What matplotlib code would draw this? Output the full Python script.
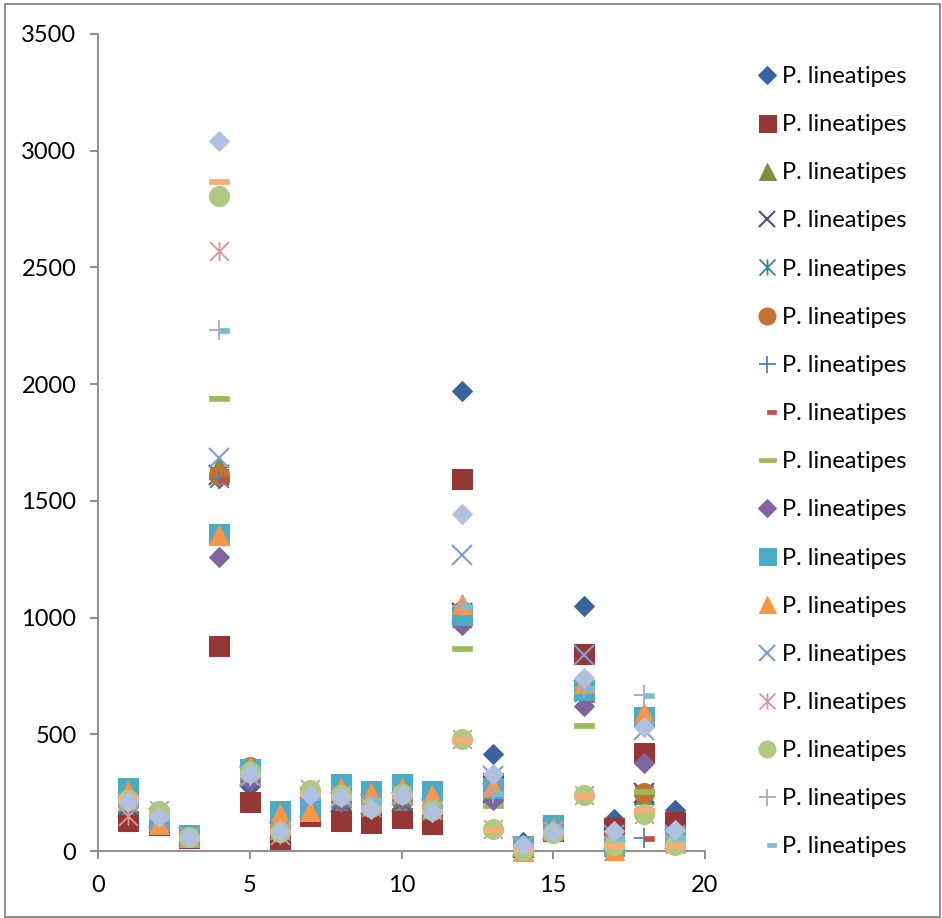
import matplotlib.pyplot as plt
from matplotlib.path import Path
from matplotlib.patches import Rectangle

x = list(range(1, 20))

# values, one list per series (x = 1..19)
s1 = [190, 130, 60, 1600, 280, 70, 200, 190, 200, 200, 160, 1970, 415, 40, 90, 1050, 135, 245, 175]
s2 = [130, 110, 55, 880, 210, 50, 150, 130, 120, 140, 115, 1595, 290, 15, 85, 845, 100, 420, 125]
s3 = [200, 140, 60, 1650, 330, 90, 200, 220, 210, 220, 190, 1040, 260, 20, 95, 700, 60, 245, 60]
s4 = [190, 140, 60, 1610, 320, 80, 190, 210, 200, 210, 180, 1020, 250, 15, 90, 690, 50, 250, 50]
s5 = [200, 150, 60, 1600, 320, 90, 200, 220, 200, 220, 180, 1000, 250, 15, 90, 680, 50, 240, 50]
s6 = [210, 150, 65, 1610, 360, 100, 220, 230, 210, 230, 190, 1030, 260, 20, 95, 700, 60, 250, 60]
s7 = [200, 140, 60, 1595, 320, 90, 200, 210, 200, 220, 180, 1020, 250, 15, 90, 690, 50, 55, 50]
s8 = [200, 140, 60, 1595, 320, 90, 200, 210, 200, 220, 180, 1010, 250, 15, 90, 650, 50, 55, 50]
s9 = [200, 150, 60, 1940, 310, 90, 210, 220, 200, 220, 180, 870, 195, 15, 90, 540, 50, 255, 50]
s10 = [200, 140, 60, 1260, 300, 90, 200, 210, 200, 220, 180, 970, 220, 15, 90, 620, 50, 375, 50]
s11 = [270, 130, 70, 1360, 350, 170, 180, 285, 255, 285, 255, 1010, 270, 20, 110, 690, 20, 575, 60]
s12 = [255, 115, 60, 1355, 360, 160, 170, 270, 250, 270, 240, 1060, 280, 0, 100, 720, 5, 590, 40]
s13 = [210, 140, 60, 1685, 320, 90, 230, 230, 200, 240, 180, 1270, 320, 20, 90, 840, 70, 520, 70]
s14 = [150, 175, 65, 2570, 320, 70, 265, 240, 190, 240, 175, 480, 95, 20, 85, 240, 25, 160, 30]
s15 = [220, 170, 60, 2805, 340, 80, 260, 240, 190, 245, 175, 480, 95, 5, 75, 240, 25, 160, 25]
s16 = [210, 140, 60, 2230, 320, 90, 230, 230, 200, 240, 180, 1050, 250, 20, 90, 700, 60, 670, 60]
s17 = [210, 140, 60, 2230, 330, 90, 230, 230, 220, 240, 190, 1050, 250, 20, 95, 700, 60, 670, 60]
s18 = [230, 155, 60, 2870, 330, 85, 250, 235, 185, 240, 170, 480, 95, 8, 80, 240, 25, 175, 25]
s19 = [210, 145, 60, 3040, 330, 85, 240, 230, 180, 240, 165, 1445, 330, 25, 80, 740, 85, 530, 90]

series = [s1, s2, s3, s4, s5, s6, s7, s8, s9, s10, s11, s12, s13, s14, s15, s16, s17, s18, s19]
name = 'P. lineatipes'
n_legend = 17  # the last two entries are cut off in the original

colors = ['#3A64A0', '#953735', '#77933C', '#5F497A', '#31859C', '#C5702E',
          '#4F81BD', '#C0504D', '#9BBB59', '#8064A2', '#4BACC6', '#F79646',
          '#7E9ED4', '#D99694', '#AFCA80', '#B3A2C7', '#78BFD6', '#FAAB78', '#B0C0DE']

# excel-like marker shapes
M, L = Path.MOVETO, Path.LINETO
asterisk = Path([(-1, -1), (1, 1), (-1, 1), (1, -1), (0, -1), (0, 1)], [M, L, M, L, M, L])
short_dash = Path([(0, -0.25), (1, -0.25), (1, 0.25), (0, 0.25), (0, -0.25)])
long_dash = Path([(-1, -0.25), (1, -0.25), (1, 0.25), (-1, 0.25), (-1, -0.25)])

shapes = [('D', 10.2, 0.75), ('s', 14.4, 0.75), ('^', 14.4, 0.75), ('x', 14, 1.5),
          (asterisk, 13.5, 1.3), ('o', 14.4, 0.75), ('+', 14.4, 1.3), (short_dash, 14.4, 0.5),
          (long_dash, 14.4, 0.5)]

plt.rcParams['font.family'] = ['Lato', 'DejaVu Sans']

fig = plt.figure(figsize=(9.42, 9.18), dpi=100)
ax = fig.add_axes([98 / 942, 67 / 918, 607 / 942, 817 / 918])

handles = []
for i, ys in enumerate(series):
    mk, ms, mew = shapes[i % 9]
    h, = ax.plot(x, ys, linestyle='none', marker=mk, markersize=ms,
                 markerfacecolor=colors[i], markeredgecolor=colors[i],
                 markeredgewidth=mew, label=name, clip_on=False, zorder=3 + i)
    handles.append(h)

ax.set_xlim(0, 20)
ax.set_ylim(0, 3500)
ax.set_xticks(range(0, 21, 5))
ax.set_yticks(range(0, 3501, 500))

axis_col = '#868686'
for side in ['top', 'right']:
    ax.spines[side].set_visible(False)
for side in ['left', 'bottom']:
    ax.spines[side].set_color(axis_col)
    ax.spines[side].set_linewidth(1.3)
ax.tick_params(axis='both', direction='out', length=5.5, width=1.3, color=axis_col,
               labelsize=17, labelcolor='black')
ax.tick_params(axis='x', pad=12)
ax.tick_params(axis='y', pad=10)

leg = ax.legend(handles=handles[:n_legend], loc='upper left',
                bbox_to_anchor=(755 / 942, 1 - 66 / 918), bbox_transform=fig.transFigure,
                frameon=False, fontsize=17, numpoints=1, markerscale=0.85,
                handlelength=1.0, handletextpad=0.15, labelspacing=1.15,
                borderaxespad=0, borderpad=0)

# outer chart border
fig.patches.append(Rectangle((5 / 942, 1 - 917 / 918), 935 / 942, 913 / 918,
                             transform=fig.transFigure, fill=False,
                             edgecolor=axis_col, linewidth=1.3))

fig.savefig('out.png', dpi=100)
